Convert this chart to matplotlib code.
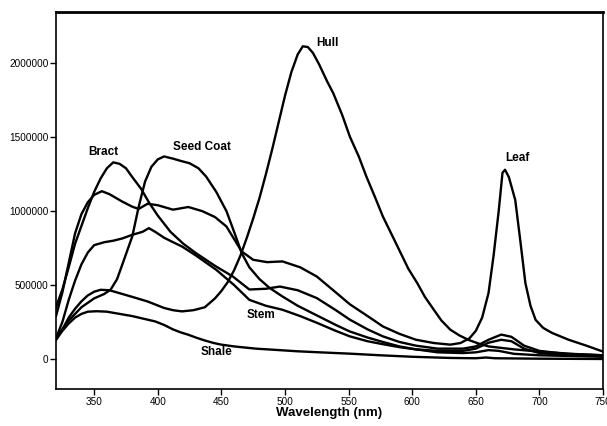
import matplotlib
matplotlib.use("Agg")
import matplotlib.pyplot as plt

plt.rcParams["font.family"] = ["Liberation Sans", "DejaVu Sans"]

# ---------------------------------------------------------------
# Spectra (wavelength nm, intensity)
# ---------------------------------------------------------------
bract_wl = [320, 325, 330, 335, 340, 345, 350, 355, 360, 365, 370, 375, 380, 387, 393,
            400, 410, 420, 430, 445, 459, 472, 485, 496, 510, 525, 540, 551, 565, 577,
            590, 603, 620, 640, 650, 660, 670, 678, 688, 700, 720, 750]
bract_val = [350000, 470000, 620000, 780000, 900000, 1020000, 1130000, 1220000, 1290000,
             1330000, 1320000, 1290000, 1230000, 1150000, 1060000, 970000, 860000, 780000,
             716000, 630000, 558000, 470000, 475000, 490000, 465000, 412000, 330000, 266000,
             200000, 153000, 115000, 90000, 70000, 70000, 85000, 130000, 165000, 150000,
             90000, 55000, 35000, 25000]

leaf_wl = [320, 325, 330, 335, 340, 345, 350, 356, 362, 372, 380, 385, 392, 400, 412,
           424, 435, 445, 454, 466, 475, 486, 498, 512, 525, 540, 551, 565, 577, 590,
           603, 617, 630, 638, 645, 650, 655, 660, 664, 668, 671, 673, 676, 681, 685,
           689, 693, 697, 703, 710, 723, 737, 750]
leaf_val = [290000, 450000, 650000, 850000, 980000, 1060000, 1110000, 1135000, 1115000,
            1065000, 1030000, 1015000, 1050000, 1040000, 1010000, 1028000, 1000000, 960000,
            896000, 727000, 671000, 655000, 660000, 620000, 558000, 450000, 370000, 290000,
            220000, 170000, 130000, 108000, 97000, 108000, 140000, 190000, 280000, 446000,
            700000, 1000000, 1260000, 1280000, 1230000, 1076000, 800000, 513000, 360000,
            265000, 210000, 176000, 130000, 90000, 50000]

seed_wl = [320, 330, 340, 350, 358, 363, 368, 373, 380, 385, 390, 395, 400, 405, 412,
           418, 425, 432, 438, 446, 454, 460, 466, 472, 480, 488, 498, 510, 525, 540,
           551, 565, 577, 590, 603, 620, 640, 650, 660, 668, 680, 700, 750]
seed_val = [140000, 260000, 350000, 410000, 440000, 470000, 540000, 660000, 830000,
            1030000, 1200000, 1300000, 1350000, 1370000, 1355000, 1340000, 1324000,
            1290000, 1234000, 1130000, 1000000, 860000, 716000, 620000, 540000, 480000,
            423000, 360000, 295000, 230000, 186000, 145000, 115000, 85000, 65000, 45000,
            40000, 45000, 60000, 55000, 35000, 25000, 15000]

stem_wl = [320, 325, 330, 335, 340, 345, 350, 358, 365, 372, 380, 388, 393, 398, 405,
           412, 419, 430, 446, 460, 472, 485, 498, 512, 525, 540, 551, 565, 577, 590,
           603, 620, 640, 650, 660, 670, 678, 688, 700, 720, 750]
stem_val = [140000, 250000, 400000, 530000, 640000, 720000, 770000, 790000, 800000,
            815000, 840000, 860000, 885000, 860000, 820000, 790000, 761000, 700000, 603000,
            500000, 400000, 360000, 333000, 290000, 245000, 190000, 153000, 120000, 100000,
            80000, 65000, 55000, 55000, 70000, 110000, 130000, 120000, 70000, 40000, 25000,
            20000]

hull_wl = [320, 325, 330, 335, 340, 345, 350, 355, 362, 370, 380, 392, 405, 412, 419,
           428, 437, 445, 450, 455, 460, 465, 470, 475, 480, 485, 490, 495, 500, 505,
           510, 514, 518, 522, 527, 533, 538, 545, 551, 558, 564, 571, 577, 584, 591,
           597, 604, 610, 617, 623, 630, 637, 644, 652, 660, 670, 680, 700, 725, 750]
hull_val = [130000, 200000, 280000, 340000, 390000, 430000, 455000, 468000, 465000,
            445000, 420000, 389000, 345000, 330000, 322000, 330000, 350000, 410000, 460000,
            520000, 600000, 700000, 820000, 950000, 1090000, 1250000, 1420000, 1600000,
            1780000, 1940000, 2060000, 2115000, 2110000, 2070000, 1990000, 1880000, 1797000,
            1650000, 1504000, 1370000, 1234000, 1090000, 963000, 840000, 716000, 610000,
            513000, 420000, 333000, 260000, 198000, 160000, 130000, 105000, 85000, 75000,
            65000, 50000, 35000, 25000]

shale_wl = [320, 325, 330, 335, 340, 345, 352, 360, 370, 380, 390, 398, 405, 412, 418,
            424, 430, 437, 444, 450, 460, 477, 490, 510, 530, 551, 575, 600, 630, 650,
            658, 665, 700, 750]
shale_val = [130000, 190000, 240000, 280000, 305000, 320000, 323000, 320000, 305000,
             290000, 270000, 254000, 230000, 200000, 180000, 164000, 145000, 125000, 108000,
             97000, 85000, 70000, 63000, 52000, 44000, 36000, 25000, 15000, 7000, 5000,
             10000, 5000, 2000, 0]

# label text and where it sits (wavelength, intensity)
labels = ["Bract", "Seed Coat", "Hull", "Leaf", "Stem", "Shale"]
label_wl = [357, 435, 533, 683, 481, 446]
label_val = [1403000, 1432000, 2140000, 1360000, 295000, 49000]

x_ticks = [350, 400, 450, 500, 550, 600, 650, 700, 750]
y_ticks = [0, 500000, 1000000, 1500000, 2000000]

fig = plt.figure(figsize=(6.07, 4.26), dpi=100)
ax = fig.add_axes([56 / 607, 1 - 389 / 426, 547 / 607, 377 / 426])

for wl, val in [(bract_wl, bract_val), (leaf_wl, leaf_val), (seed_wl, seed_val),
                (stem_wl, stem_val), (hull_wl, hull_val), (shale_wl, shale_val)]:
    ax.plot(wl, val, color="black", linewidth=1.7, solid_joinstyle="round")

for txt, x, y in zip(labels, label_wl, label_val):
    ax.text(x, y, txt, ha="center", va="center", fontsize=8.5, fontweight="bold")

ax.set_xlim(320, 750)
ax.set_ylim(-203000, 2347000)
ax.set_xticks(x_ticks)
ax.set_yticks(y_ticks)
ax.set_yticklabels([str(v) for v in y_ticks])
ax.tick_params(direction="out", length=4, width=1, labelsize=7.2, pad=1.5)
ax.set_xlabel("Wavelength (nm)", fontsize=9.5, fontweight="bold", labelpad=0)

for side in ["left", "bottom", "right"]:
    ax.spines[side].set_linewidth(1.2)
ax.spines["top"].set_linewidth(2)

plt.savefig("out.png", dpi=100)
plt.close()
